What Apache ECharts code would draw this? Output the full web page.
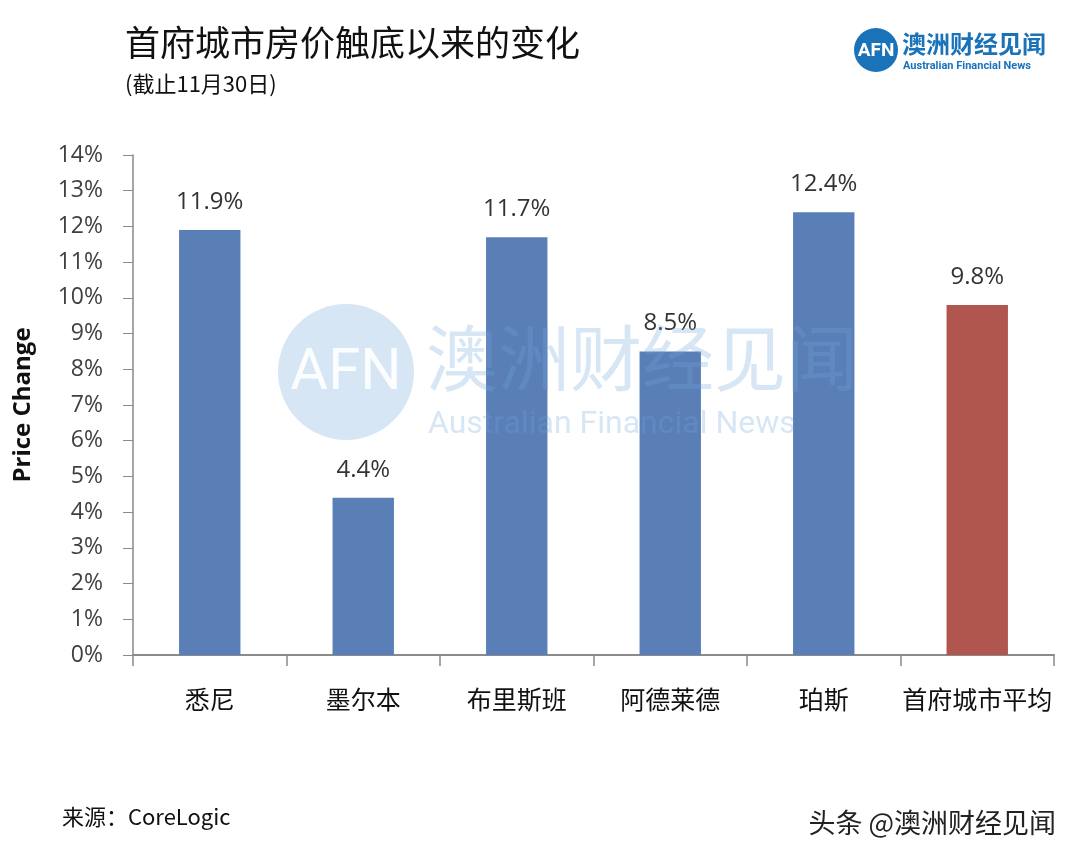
<!DOCTYPE html>
<html>
<head>
<meta charset="utf-8">
<title>首府城市房价触底以来的变化</title>
<script src="https://cdn.jsdelivr.net/npm/echarts@6/dist/echarts.min.js"></script>
<style>
  html, body { margin: 0; padding: 0; background: #fff; }
  #chart { width: 1080px; height: 860px; }
</style>
</head>
<body>
<div id="chart"></div>
<script>
const cities = ['悉尼', '墨尔本', '布里斯班', '阿德莱德', '珀斯', '首府城市平均']
const changes = [11.9, 4.4, 11.7, 8.5, 12.4, 9.8]
const yTicks = { min: 0, max: 14, step: 1 }

const BLUE = '#5a7fb7'
const RED = '#b0564e'
const LOGO = '#1a72b9'
const WM = 'rgba(110,165,220,0.28)'
const cjk = '"Noto Sans CJK SC", "Noto Sans", sans-serif'
const latin = '"Open Sans", "Noto Sans", sans-serif'

const chart = echarts.init(document.getElementById('chart'))
chart.setOption({
  backgroundColor: '#fff',
  animation: false,
  title: [
    {
      text: '首府城市房价触底以来的变化',
      left: 120, top: 20,
      textStyle: { fontFamily: cjk, fontSize: 35, fontWeight: 'normal', color: '#111' }
    },
    {
      text: '(截止11月30日)',
      left: 120, top: 68,
      textStyle: { fontFamily: cjk, fontSize: 22, fontWeight: 'normal', color: '#111' }
    }
  ],
  grid: { left: 133, right: 26, top: 155, bottom: 205, outerBoundsMode: 'none', containLabel: false },
  xAxis: {
    type: 'category',
    data: cities,
    axisLine: { lineStyle: { color: '#8a8a8a', width: 2 } },
    axisTick: { show: true, interval: 0, length: 11, lineStyle: { color: '#8a8a8a', width: 1.5 } },
    axisLabel: { interval: 0, margin: 32, fontFamily: cjk, fontSize: 25, color: '#111' }
  },
  yAxis: {
    type: 'value',
    min: yTicks.min, max: yTicks.max, interval: yTicks.step,
    name: 'Price Change',
    nameLocation: 'middle',
    nameGap: 98,
    nameTextStyle: { fontFamily: latin, fontSize: 24, fontWeight: 'bold', color: '#111' },
    axisLine: { show: true, lineStyle: { color: '#8a8a8a', width: 1.5 } },
    axisTick: { show: true, length: 10, lineStyle: { color: '#8a8a8a' } },
    splitLine: { show: false },
    axisLabel: { margin: 30, formatter: '{value}%', fontFamily: latin, fontSize: 23, color: '#404040' }
  },
  series: [{
    type: 'bar',
    data: changes,
    barWidth: '40%',
    itemStyle: {
      color: p => (p.dataIndex === cities.length - 1 ? RED : BLUE)
    },
    label: {
      show: true,
      position: 'top',
      distance: 16,
      formatter: p => p.value.toFixed(1) + '%',
      fontFamily: latin, fontSize: 24, color: '#333'
    }
  }],
  graphic: [
    // 右上角 logo
    { type: 'circle', shape: { cx: 876, cy: 50, r: 22 }, style: { fill: LOGO } },
    {
      type: 'text', x: 876, y: 51,
      style: { text: 'AFN', fill: '#fff', font: 'bold 19px "Roboto", sans-serif', align: 'center', verticalAlign: 'middle' }
    },
    {
      type: 'text', x: 902, y: 44,
      style: { text: '澳洲财经见闻', fill: LOGO, font: 'bold 24px ' + cjk, verticalAlign: 'middle' }
    },
    {
      type: 'text', x: 903, y: 66,
      style: { text: 'Australian Financial News', fill: LOGO, font: 'bold 11px "Roboto", sans-serif', verticalAlign: 'middle' }
    },
    // 中间水印，盖在柱子上面
    { type: 'circle', z: 100, silent: true, shape: { cx: 346, cy: 372, r: 68 }, style: { fill: WM } },
    {
      type: 'text', z: 101, silent: true, x: 346, y: 374,
      style: { text: 'AFN', fill: 'rgba(255,255,255,0.9)', font: '58px "Roboto", sans-serif', align: 'center', verticalAlign: 'middle' }
    },
    {
      type: 'text', z: 100, silent: true, x: 426, y: 358,
      style: { text: '澳洲财经见闻', fill: WM, font: '72px ' + cjk, verticalAlign: 'middle' }
    },
    {
      type: 'text', z: 100, silent: true, x: 428, y: 425,
      style: { text: 'Australian Financial News', fill: WM, font: '32px "Roboto", sans-serif', verticalAlign: 'middle' }
    },
    // 底部
    {
      type: 'text', x: 62, y: 817,
      style: { text: '来源：CoreLogic', fill: '#111', font: '22px ' + cjk, verticalAlign: 'middle' }
    },
    {
      type: 'text', x: 1056, y: 823,
      style: { text: '头条 @澳洲财经见闻', fill: '#222', font: '27px ' + cjk, align: 'right', verticalAlign: 'middle' }
    }
  ]
})
</script>
</body>
</html>
